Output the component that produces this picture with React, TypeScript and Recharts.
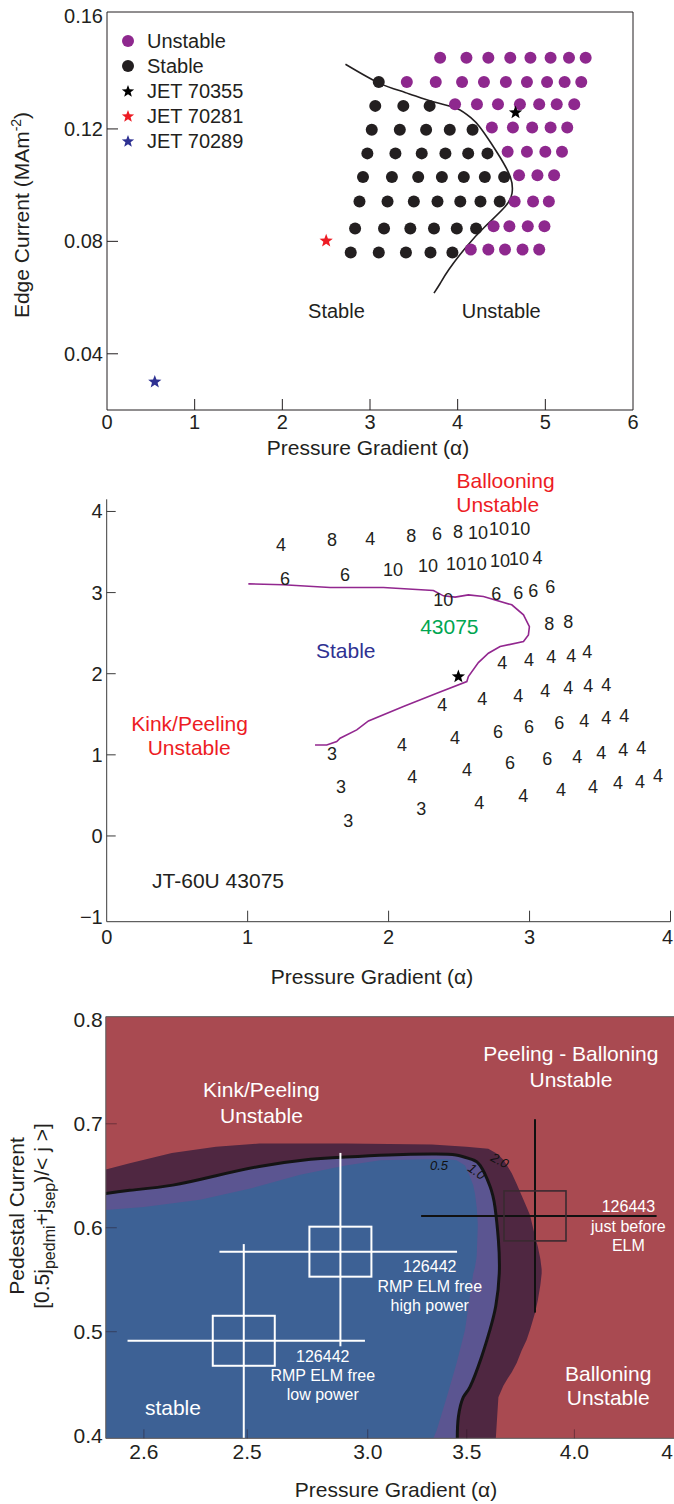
import React from 'react';
import {
  ComposedChart, Scatter, Line, Area, XAxis, YAxis, ReferenceLine, ReferenceDot,
  Legend, ErrorBar, CartesianGrid,
} from 'recharts';

const FONT = '"Liberation Sans", Arial, Helvetica, sans-serif';
const INK = '#231f20';
const PAGE_W = 674;

// ---------- top panel: JET edge stability diagram ----------
const p1XTicks = [0, 1, 2, 3, 4, 5, 6];
const p1YTicks = [0.04, 0.08, 0.12, 0.16];
const p1YLabels = ['0.04', '0.08', '0.12', '0.16'];

const stableRows = [
  { y: 0.076, xs: [2.78, 3.1, 3.41, 3.69, 3.94] },
  { y: 0.0846, xs: [2.83, 3.16, 3.46, 3.73, 3.99, 4.21] },
  { y: 0.0942, xs: [2.88, 3.2, 3.5, 3.77, 4.03, 4.26, 4.48] },
  { y: 0.1029, xs: [2.92, 3.25, 3.55, 3.82, 4.07, 4.31, 4.53] },
  { y: 0.1113, xs: [2.97, 3.29, 3.59, 3.86, 4.12, 4.34] },
  { y: 0.1197, xs: [3.02, 3.34, 3.64, 3.91, 4.17] },
  { y: 0.1282, xs: [3.06, 3.38, 3.68] },
  { y: 0.1367, xs: [3.1] },
];

const unstableRows = [
  { y: 0.1453, xs: [3.8, 4.1, 4.35, 4.6, 4.83, 5.06, 5.27, 5.46] },
  { y: 0.1367, xs: [3.42, 3.75, 4.05, 4.3, 4.55, 4.79, 5.02, 5.22, 5.41] },
  { y: 0.1288, xs: [3.97, 4.22, 4.46, 4.71, 4.93, 5.13, 5.33] },
  { y: 0.1205, xs: [4.39, 4.63, 4.85, 5.06, 5.25] },
  { y: 0.1119, xs: [4.57, 4.79, 5.0, 5.19] },
  { y: 0.1035, xs: [4.7, 4.91, 5.1] },
  { y: 0.0942, xs: [4.65, 4.86, 5.04] },
  { y: 0.0854, xs: [4.41, 4.59, 4.8, 4.99] },
  { y: 0.0771, xs: [4.15, 4.35, 4.54, 4.74, 4.93] },
];

const jet70355 = [{ x: 4.66, y: 0.1258 }];
const jet70281 = [{ x: 2.5, y: 0.0802 }];
const jet70289 = [{ x: 0.545, y: 0.03 }];

const p1Boundary = [
  { x: 2.72, y: 0.143 }, { x: 3.11, y: 0.1362 }, { x: 3.4, y: 0.133 },
  { x: 3.72, y: 0.1297 }, { x: 3.99, y: 0.1273 }, { x: 4.15, y: 0.124 },
  { x: 4.25, y: 0.1208 }, { x: 4.38, y: 0.115 }, { x: 4.48, y: 0.1101 },
  { x: 4.6, y: 0.103 }, { x: 4.62, y: 0.0971 }, { x: 4.54, y: 0.0923 },
  { x: 4.31, y: 0.0852 }, { x: 4.1, y: 0.0781 }, { x: 3.9, y: 0.07 },
  { x: 3.8, y: 0.065 }, { x: 3.73, y: 0.0616 },
];

const p1Legend = [
  { label: 'Unstable', kind: 'dot', color: '#8e288e' },
  { label: 'Stable', kind: 'dot', color: INK },
  { label: 'JET 70355', kind: 'star', color: '#000' },
  { label: 'JET 70281', kind: 'star', color: '#ed1c24' },
  { label: 'JET 70289', kind: 'star', color: '#2e3192' },
];

const p1Notes = [
  { x: 2.617, y: 0.0552, t: 'Stable' },
  { x: 4.497, y: 0.0552, t: 'Unstable' },
];

// ---------- middle panel: JT-60U 43075 ----------
const p2XTicks = [0, 1, 2, 3, 4];
const p2YTicks = [-1, 0, 1, 2, 3, 4];
const p2YLabels = ['\u22121', '0', '1', '2', '3', '4'];

const p2Boundary = [
  { x: 1.005, y: 3.108 }, { x: 1.253, y: 3.096 }, { x: 1.585, y: 3.062 },
  { x: 1.963, y: 3.062 }, { x: 2.318, y: 3.025 }, { x: 2.389, y: 2.96 },
  { x: 2.472, y: 2.944 }, { x: 2.566, y: 2.972 }, { x: 2.673, y: 2.951 },
  { x: 2.874, y: 2.849 }, { x: 2.957, y: 2.726 }, { x: 2.999, y: 2.581 },
  { x: 2.992, y: 2.479 }, { x: 2.957, y: 2.396 }, { x: 2.791, y: 2.335 },
  { x: 2.708, y: 2.253 }, { x: 2.637, y: 2.137 }, { x: 2.566, y: 1.965 },
  { x: 2.555, y: 1.903 }, { x: 2.342, y: 1.76 }, { x: 2.105, y: 1.595 },
  { x: 1.857, y: 1.418 }, { x: 1.774, y: 1.307 }, { x: 1.656, y: 1.205 },
  { x: 1.632, y: 1.163 }, { x: 1.561, y: 1.122 }, { x: 1.478, y: 1.122 },
];

// most unstable toroidal mode number at each scanned equilibrium
const p2Modes = [
  { x: 1.237, y: 3.589, n: '4' }, { x: 1.599, y: 3.651, n: '8' }, { x: 1.869, y: 3.663, n: '4' },
  { x: 2.16, y: 3.7, n: '8' }, { x: 2.344, y: 3.725, n: '6' }, { x: 2.493, y: 3.75, n: '8' },
  { x: 2.635, y: 3.737, n: '10' }, { x: 2.784, y: 3.786, n: '10' }, { x: 2.934, y: 3.786, n: '10' },
  { x: 1.265, y: 3.17, n: '6' }, { x: 1.691, y: 3.219, n: '6' }, { x: 2.032, y: 3.281, n: '10' },
  { x: 2.28, y: 3.33, n: '10' }, { x: 2.479, y: 3.355, n: '10' }, { x: 2.625, y: 3.355, n: '10' },
  { x: 2.791, y: 3.392, n: '10' }, { x: 2.926, y: 3.416, n: '10' }, { x: 3.057, y: 3.429, n: '4' },
  { x: 2.387, y: 2.911, n: '10' }, { x: 2.763, y: 2.985, n: '6' }, { x: 2.919, y: 2.997, n: '6' },
  { x: 3.026, y: 3.022, n: '6' }, { x: 3.147, y: 3.071, n: '6' },
  { x: 3.139, y: 2.615, n: '8' }, { x: 3.274, y: 2.639, n: '8' },
  { x: 2.806, y: 2.134, n: '4' }, { x: 2.997, y: 2.171, n: '4' }, { x: 3.154, y: 2.208, n: '4' },
  { x: 3.296, y: 2.22, n: '4' }, { x: 3.409, y: 2.269, n: '4' },
  { x: 2.38, y: 1.616, n: '4' }, { x: 2.664, y: 1.69, n: '4' }, { x: 2.919, y: 1.727, n: '4' },
  { x: 3.111, y: 1.788, n: '4' }, { x: 3.274, y: 1.825, n: '4' }, { x: 3.416, y: 1.85, n: '4' },
  { x: 3.544, y: 1.862, n: '4' },
  { x: 2.096, y: 1.122, n: '4' }, { x: 2.472, y: 1.209, n: '4' }, { x: 2.777, y: 1.283, n: '6' },
  { x: 2.997, y: 1.344, n: '6' }, { x: 3.21, y: 1.394, n: '6' }, { x: 3.388, y: 1.418, n: '4' },
  { x: 3.544, y: 1.455, n: '4' }, { x: 3.672, y: 1.48, n: '4' },
  { x: 1.599, y: 1.011, n: '3' }, { x: 2.167, y: 0.728, n: '4' }, { x: 2.557, y: 0.814, n: '4' },
  { x: 2.862, y: 0.9, n: '6' }, { x: 3.125, y: 0.95, n: '6' }, { x: 3.338, y: 0.974, n: '4' },
  { x: 3.508, y: 1.024, n: '4' }, { x: 3.664, y: 1.061, n: '4' }, { x: 3.792, y: 1.085, n: '4' },
  { x: 1.663, y: 0.604, n: '3' }, { x: 2.231, y: 0.333, n: '3' }, { x: 2.643, y: 0.407, n: '4' },
  { x: 2.955, y: 0.493, n: '4' }, { x: 3.224, y: 0.567, n: '4' }, { x: 3.451, y: 0.604, n: '4' },
  { x: 3.628, y: 0.654, n: '4' }, { x: 3.784, y: 0.666, n: '4' }, { x: 3.912, y: 0.74, n: '4' },
  { x: 1.713, y: 0.185, n: '3' },
];

const p2Star = [{ x: 2.495, y: 1.965 }];

const p2Notes = [
  { x: 2.83, y: 4.38, t: 'Ballooning', color: '#ed1c24' },
  { x: 2.774, y: 4.08, t: 'Unstable', color: '#ed1c24' },
  { x: 0.588, y: 1.39, t: 'Kink/Peeling', color: '#ed1c24' },
  { x: 0.585, y: 1.094, t: 'Unstable', color: '#ed1c24' },
  { x: 1.696, y: 2.285, t: 'Stable', color: '#2e3192' },
  { x: 2.431, y: 2.581, t: '43075', color: '#00a651' },
  { x: 0.79, y: -0.551, t: 'JT-60U 43075', color: INK },
];

// ---------- bottom panel: DIII-D growth-rate contours ----------
const p3XTicks = [2.0, 2.48, 3.04, 3.5, 4.0, 4.5];
const p3XLabels = ['2.6', '2.5', '3.0', '3.5', '4.0', '4'];
const p3YTicks = [0.4, 0.5, 0.6, 0.7, 0.8];
const p3YLabels = ['0.4', '0.5', '0.6', '0.7', '0.8'];
const B = 0.3975;

// region inside the 2.0 contour
const band20 = [
  { x: 1.823, r: [B, 0.656] }, { x: 1.934, r: [B, 0.662] }, { x: 2.13, r: [B, 0.672] },
  { x: 2.335, r: [B, 0.678] }, { x: 2.536, r: [B, 0.681] }, { x: 2.937, r: [B, 0.681] },
  { x: 3.338, r: [B, 0.68] }, { x: 3.498, r: [B, 0.678] }, { x: 3.6, r: [B, 0.676] },
  { x: 3.635, r: [B, 0.672] }, { x: 3.647, r: [0.437, 0.67] }, { x: 3.67, r: [0.448, 0.6653] },
  { x: 3.69, r: [0.455, 0.659] }, { x: 3.709, r: [0.461, 0.6525] }, { x: 3.732, r: [0.47, 0.642] },
  { x: 3.755, r: [0.482, 0.631] }, { x: 3.778, r: [0.492, 0.62] }, { x: 3.794, r: [0.502, 0.612] },
  { x: 3.817, r: [0.518, 0.592] }, { x: 3.83, r: [0.53, 0.582] }, { x: 3.842, r: [0.545, 0.57] },
  { x: 3.848, r: [0.556, 0.56] },
];

// region inside the 1.0 contour
const band10 = [
  { x: 1.823, r: [B, 0.633] }, { x: 1.934, r: [B, 0.636] }, { x: 2.134, r: [B, 0.641] },
  { x: 2.335, r: [B, 0.65] }, { x: 2.536, r: [B, 0.659] }, { x: 2.736, r: [B, 0.665] },
  { x: 2.937, r: [B, 0.668] }, { x: 3.137, r: [B, 0.67] }, { x: 3.338, r: [B, 0.671] },
  { x: 3.456, r: [B, 0.67] }, { x: 3.461, r: [0.418, 0.67] }, { x: 3.484, r: [0.437, 0.669] },
  { x: 3.515, r: [0.447, 0.667] }, { x: 3.562, r: [0.471, 0.66] }, { x: 3.569, r: [0.476, 0.657] },
  { x: 3.608, r: [0.502, 0.64] }, { x: 3.635, r: [0.525, 0.616] }, { x: 3.647, r: [0.542, 0.588] },
  { x: 3.651, r: [0.556, 0.57] }, { x: 3.653, r: [0.563, 0.563] },
];

// stable region, inside the 0.5 contour
const band05 = [
  { x: 1.823, r: [B, 0.617] }, { x: 2.0, r: [B, 0.62] }, { x: 2.261, r: [B, 0.627] },
  { x: 2.5, r: [B, 0.638] }, { x: 2.726, r: [B, 0.651] }, { x: 2.937, r: [B, 0.66] },
  { x: 3.098, r: [B, 0.665] }, { x: 3.3, r: [B, 0.666] }, { x: 3.345, r: [B, 0.666] },
  { x: 3.36, r: [0.405, 0.666] }, { x: 3.407, r: [0.437, 0.666] }, { x: 3.453, r: [0.47, 0.665] },
  { x: 3.492, r: [0.502, 0.66] }, { x: 3.515, r: [0.535, 0.649] }, { x: 3.53, r: [0.556, 0.641] },
  { x: 3.538, r: [0.562, 0.633] }, { x: 3.546, r: [0.572, 0.62] }, { x: 3.551, r: [0.6, 0.604] },
];

const contour10 = [
  { x: 1.823, y: 0.633 }, { x: 1.934, y: 0.636 }, { x: 2.134, y: 0.641 }, { x: 2.335, y: 0.65 },
  { x: 2.536, y: 0.659 }, { x: 2.736, y: 0.665 }, { x: 2.937, y: 0.668 }, { x: 3.137, y: 0.67 },
  { x: 3.338, y: 0.671 }, { x: 3.45, y: 0.67 }, { x: 3.52, y: 0.666 }, { x: 3.562, y: 0.66 },
  { x: 3.608, y: 0.64 }, { x: 3.631, y: 0.62 }, { x: 3.647, y: 0.588 }, { x: 3.651, y: 0.556 },
  { x: 3.635, y: 0.525 }, { x: 3.608, y: 0.502 }, { x: 3.569, y: 0.476 }, { x: 3.515, y: 0.447 },
  { x: 3.484, y: 0.437 }, { x: 3.461, y: 0.418 }, { x: 3.456, y: 0.3975 },
];

const rmpShots = [
  { x: 2.464, y: 0.4913, ex: [0.54, 0.563], ey: [0.0938, 0.093] },
  { x: 2.913, y: 0.577, ex: [0.562, 0.542], ey: [0.091, 0.095] },
];
const elmShot = [{ x: 3.817, y: 0.6114, ex: [0.529, 0.565], ey: [0.093, 0.093] }];

const p3Notes = [
  { x: 2.546, y: 0.7326, t: 'Kink/Peeling', s: 21 },
  { x: 2.546, y: 0.7076, t: 'Unstable', s: 21 },
  { x: 3.984, y: 0.7673, t: 'Peeling - Balloning', s: 21 },
  { x: 3.984, y: 0.7423, t: 'Unstable', s: 21 },
  { x: 4.157, y: 0.46, t: 'Balloning', s: 21 },
  { x: 4.157, y: 0.4369, t: 'Unstable', s: 21 },
  { x: 2.135, y: 0.4272, t: 'stable', s: 21 },
  { x: 2.831, y: 0.4766, t: '126442', s: 16 },
  { x: 2.831, y: 0.4583, t: 'RMP ELM free', s: 16 },
  { x: 2.831, y: 0.44, t: 'low power', s: 16 },
  { x: 3.328, y: 0.5626, t: '126442', s: 16 },
  { x: 3.328, y: 0.544, t: 'RMP ELM free', s: 16 },
  { x: 3.328, y: 0.5257, t: 'high power', s: 16 },
  { x: 4.251, y: 0.6203, t: '126443', s: 16 },
  { x: 4.251, y: 0.6017, t: 'just before', s: 16 },
  { x: 4.251, y: 0.5834, t: 'ELM', s: 16 },
];

const contourLabels = [
  { x: 3.371, y: 0.6604, t: '0.5', rot: 0 },
  { x: 3.546, y: 0.6542, t: '1.0', rot: 35 },
  { x: 3.654, y: 0.6647, t: '2.0', rot: 28 },
];

// ---------- helpers ----------
const near = (a: number, b: number) => Math.abs(a - b) < 1e-9;
const flatRows = (rows: { y: number; xs: number[] }[]) =>
  rows.flatMap((r) => r.xs.map((x) => ({ x, y: r.y })));

function starPath(cx: number, cy: number, R: number) {
  const pts: string[] = [];
  for (let i = 0; i < 10; i++) {
    const r = i % 2 === 0 ? R : R * 0.42;
    const a = -Math.PI / 2 + (i * Math.PI) / 5;
    pts.push(`${(cx + r * Math.cos(a)).toFixed(2)},${(cy + r * Math.sin(a)).toFixed(2)}`);
  }
  return `M${pts.join('L')}Z`;
}

type TickCfg = {
  side: 'bottom' | 'left';
  values: number[];
  labels: string[];
  marks: number[];
  len: number;
  gap: number;
  tickColor: string;
  size: number;
  textColor: string;
};

function AxisTick({ x, y, payload, cfg }: any) {
  const c: TickCfg = cfg;
  const i = c.values.findIndex((v) => near(v, payload.value));
  const label = i >= 0 ? c.labels[i] : String(payload.value);
  const mark = c.marks.some((m) => near(m, payload.value));
  if (c.side === 'bottom') {
    // labels at the page's right edge are pulled in so they stay readable
    const atEdge = x + label.length * c.size * 0.28 > PAGE_W - 1;
    return (
      <g>
        {mark && <line x1={x} y1={y} x2={x} y2={y - c.len} stroke={c.tickColor} />}
        <text
          x={atEdge ? PAGE_W - 1 : x}
          y={y + c.gap}
          textAnchor={atEdge ? 'end' : 'middle'}
          fontSize={c.size}
          fontFamily={FONT}
          fill={c.textColor}
        >
          {label}
        </text>
      </g>
    );
  }
  return (
    <g>
      {mark && <line x1={x} y1={y} x2={x + c.len} y2={y} stroke={c.tickColor} />}
      <text x={x - c.gap} y={y} dy="0.35em" textAnchor="end" fontSize={c.size} fontFamily={FONT} fill={c.textColor}>
        {label}
      </text>
    </g>
  );
}

const textShape = (t: string, color: string, size: number, rot = 0, italic = false) => (p: any) => (
  <text
    x={p.cx}
    y={p.cy}
    dy="0.35em"
    textAnchor="middle"
    fill={color}
    fontSize={size}
    fontFamily={FONT}
    fontStyle={italic ? 'italic' : 'normal'}
    transform={rot ? `rotate(${rot} ${p.cx} ${p.cy})` : undefined}
  >
    {t}
  </text>
);

const dotShape = (color: string) => (p: any) => <circle cx={p.cx} cy={p.cy} r={6} fill={color} />;
const starShape = (color: string, R: number) => (p: any) => <path d={starPath(p.cx, p.cy, R)} fill={color} />;

// ---------- panels ----------
function JetPanel() {
  const xCfg: TickCfg = {
    side: 'bottom', values: p1XTicks, labels: p1XTicks.map(String), marks: [1, 2, 3, 4, 5],
    len: 11, gap: 19, tickColor: INK, size: 20, textColor: INK,
  };
  const yCfg: TickCfg = {
    side: 'left', values: p1YTicks, labels: p1YLabels, marks: [0.04, 0.08, 0.12],
    len: 11, gap: 4, tickColor: INK, size: 20, textColor: INK,
  };

  const legend = () => (
    <div style={{ fontFamily: FONT, fontSize: 20, color: INK, lineHeight: '20px' }}>
      {p1Legend.map((it) => (
        <div key={it.label} style={{ display: 'flex', alignItems: 'center', height: 25.2 }}>
          <svg width={24} height={20} style={{ display: 'block' }}>
            {it.kind === 'dot' ? (
              <circle cx={12} cy={10} r={6} fill={it.color} />
            ) : (
              <path d={starPath(12, 10.5, 6.5)} fill={it.color} />
            )}
          </svg>
          <span style={{ marginLeft: 7 }}>{it.label}</span>
        </div>
      ))}
    </div>
  );

  return (
    <ComposedChart width={674} height={470} margin={{ top: 12, right: 41, bottom: 15, left: 0 }}>
      <XAxis
        type="number" dataKey="x" domain={[0, 6]} ticks={p1XTicks} interval={0} allowDataOverflow
        tickSize={0} tickMargin={0} height={45} tickLine={false} axisLine={{ stroke: INK }}
        tick={(p: any) => <AxisTick {...p} cfg={xCfg} />}
        label={{
          content: () => (
            <text x={368} y={455} textAnchor="middle" fontSize={21} fontFamily={FONT} fill={INK}>
              Pressure Gradient (α)
            </text>
          ),
        }}
      />
      <YAxis
        type="number" dataKey="y" domain={[0.02, 0.1616]} ticks={p1YTicks} interval={0} allowDataOverflow
        tickSize={0} tickMargin={0} width={107} tickLine={false} axisLine={{ stroke: INK }}
        tick={(p: any) => <AxisTick {...p} cfg={yCfg} />}
        label={{
          content: () => (
            <text x={22} y={222} transform="rotate(-90 22 215)" textAnchor="middle" fontSize={21} fontFamily={FONT} fill={INK}>
              Edge Current (MAm<tspan dy={-8} fontSize={14}>-2</tspan>
              <tspan dy={8}>)</tspan>
            </text>
          ),
        }}
      />
      <ReferenceLine y={0.1616} stroke={INK} ifOverflow="visible" />
      <ReferenceLine x={6} stroke={INK} ifOverflow="visible" />
      <Line data={p1Boundary} dataKey="y" type="natural" stroke={INK} strokeWidth={1.6} dot={false} isAnimationActive={false} />
      <Scatter data={flatRows(stableRows)} shape={dotShape(INK)} isAnimationActive={false} />
      <Scatter data={flatRows(unstableRows)} shape={dotShape('#8e288e')} isAnimationActive={false} />
      <Scatter data={jet70355} shape={starShape('#000', 7)} isAnimationActive={false} />
      <Scatter data={jet70281} shape={starShape('#ed1c24', 7)} isAnimationActive={false} />
      <Scatter data={jet70289} shape={starShape('#2e3192', 7)} isAnimationActive={false} />
      {p1Notes.map((n) => (
        <ReferenceDot key={n.t} x={n.x} y={n.y} ifOverflow="visible" shape={textShape(n.t, INK, 20)} />
      ))}
      <Legend
        layout="horizontal" align="center" verticalAlign="middle"
        wrapperStyle={{ left: 116, top: 28, width: 170, height: 130 }}
        content={legend}
      />
    </ComposedChart>
  );
}

function Jt60Panel() {
  const AX = '#3a3a3a';
  const xCfg: TickCfg = {
    side: 'bottom', values: p2XTicks, labels: p2XTicks.map(String), marks: [1, 2, 3, 4],
    len: 11, gap: 22, tickColor: AX, size: 20, textColor: INK,
  };
  const yCfg: TickCfg = {
    side: 'left', values: p2YTicks, labels: p2YLabels, marks: [0, 1, 2, 3, 4],
    len: 9, gap: 4, tickColor: AX, size: 20, textColor: INK,
  };
  return (
    <ComposedChart width={674} height={530} margin={{ top: 29.3, right: 3.5, bottom: 16, left: 0 }}>
      <XAxis
        type="number" dataKey="x" domain={[0, 4]} ticks={p2XTicks} interval={0} allowDataOverflow
        tickSize={0} tickMargin={0} height={62.3} tickLine={false} axisLine={{ stroke: AX }}
        tick={(p: any) => <AxisTick {...p} cfg={xCfg} />}
        label={{
          content: () => (
            <text x={372} y={514} textAnchor="middle" fontSize={21} fontFamily={FONT} fill={INK}>
              Pressure Gradient (α)
            </text>
          ),
        }}
      />
      <YAxis
        type="number" dataKey="y" domain={[-1.057, 4.15]} ticks={p2YTicks} interval={0} allowDataOverflow
        tickSize={0} tickMargin={0} width={106.7} tickLine={false} axisLine={{ stroke: AX }}
        tick={(p: any) => <AxisTick {...p} cfg={yCfg} />}
      />
      <Line data={p2Boundary} dataKey="y" type="linear" stroke="#92278f" strokeWidth={1.6} dot={false} isAnimationActive={false} />
      <Scatter
        data={p2Modes}
        shape={(p: any) => textShape(p.payload.n, INK, 18)(p)}
        isAnimationActive={false}
      />
      <Scatter data={p2Star} shape={starShape('#000', 7)} isAnimationActive={false} />
      {p2Notes.map((n) => (
        <ReferenceDot key={n.t + n.y} x={n.x} y={n.y} ifOverflow="visible" shape={textShape(n.t, n.color, 21)} />
      ))}
    </ComposedChart>
  );
}

function DiiidPanel() {
  const AX = '#5a5a5a';
  const xCfg: TickCfg = {
    side: 'bottom', values: p3XTicks, labels: p3XLabels, marks: p3XTicks,
    len: 9, gap: 21, tickColor: 'rgba(40,20,30,0.45)', size: 21, textColor: INK,
  };
  const yCfg: TickCfg = {
    side: 'left', values: p3YTicks, labels: p3YLabels, marks: [0.5, 0.6, 0.7],
    len: 11, gap: 3, tickColor: 'rgba(40,20,30,0.45)', size: 21, textColor: INK,
  };
  return (
    <ComposedChart width={690} height={504} margin={{ top: 16.7, right: 8, bottom: 7, left: 0 }}>
      <CartesianGrid horizontal={false} vertical={false} fill="#a94a51" fillOpacity={1} />
      <XAxis
        type="number" dataKey="x" domain={[1.823, 4.5]} ticks={p3XTicks} interval={0} allowDataOverflow
        tickSize={0} tickMargin={0} height={58.7} tickLine={false} axisLine={{ stroke: AX }}
        tick={(p: any) => <AxisTick {...p} cfg={xCfg} />}
        label={{
          content: () => (
            <text x={396} y={497} textAnchor="middle" fontSize={21} fontFamily={FONT} fill={INK}>
              Pressure Gradient (α)
            </text>
          ),
        }}
      />
      <YAxis
        type="number" dataKey="y" domain={[B, 0.803]} ticks={p3YTicks} interval={0} allowDataOverflow
        tickSize={0} tickMargin={0} width={105.8} tickLine={false} axisLine={{ stroke: AX }}
        tick={(p: any) => <AxisTick {...p} cfg={yCfg} />}
        label={{
          content: () => (
            <g fontFamily={FONT} fill={INK}>
              <text x={17} y={223} transform="rotate(-90 17 216)" textAnchor="middle" fontSize={21}>
                Pedestal Current
              </text>
              <text x={42} y={223} transform="rotate(-90 42 216)" textAnchor="middle" fontSize={21}>
                [0.5j<tspan dy={6} fontSize={16}>pedmi</tspan>
                <tspan dy={-6}>+j</tspan>
                <tspan dy={6} fontSize={16}>sep</tspan>
                <tspan dy={-6}>)/&lt; j &gt;]</tspan>
              </text>
            </g>
          ),
        }}
      />
      <ReferenceLine y={0.803} stroke={AX} ifOverflow="visible" />
      <Area data={band20} dataKey="r" type="linear" stroke="none" fill="#4f2741" fillOpacity={1} isAnimationActive={false} />
      <Area data={band10} dataKey="r" type="linear" stroke="none" fill="#5b5591" fillOpacity={1} isAnimationActive={false} />
      <Area data={band05} dataKey="r" type="linear" stroke="none" fill="#3d6195" fillOpacity={1} isAnimationActive={false} />
      <Line data={contour10} dataKey="y" type="natural" stroke="#141414" strokeWidth={3} dot={false} isAnimationActive={false} />
      <Scatter
        data={rmpShots}
        shape={(p: any) => <rect x={p.cx - 31} y={p.cy - 25} width={62} height={50} fill="none" stroke="#fff" strokeWidth={2} />}
        isAnimationActive={false}
      >
        <ErrorBar dataKey="ex" direction="x" width={0} stroke="#fff" strokeWidth={2} />
        <ErrorBar dataKey="ey" direction="y" width={0} stroke="#fff" strokeWidth={2} />
      </Scatter>
      <Scatter
        data={elmShot}
        shape={(p: any) => <rect x={p.cx - 31} y={p.cy - 25} width={62} height={50} fill="none" stroke="#3a2a30" strokeWidth={1.6} />}
        isAnimationActive={false}
      >
        <ErrorBar dataKey="ex" direction="x" width={0} stroke="#111" strokeWidth={2} />
        <ErrorBar dataKey="ey" direction="y" width={0} stroke="#111" strokeWidth={2} />
      </Scatter>
      {contourLabels.map((c) => (
        <ReferenceDot key={c.t} x={c.x} y={c.y} ifOverflow="visible" shape={textShape(c.t, '#111', 13, c.rot, true)} />
      ))}
      {p3Notes.map((n) => (
        <ReferenceDot key={n.t + n.y} x={n.x} y={n.y} ifOverflow="visible" shape={textShape(n.t, '#fff', n.s)} />
      ))}
    </ComposedChart>
  );
}

export default function App() {
  return (
    <div
      style={{
        position: 'absolute', left: 0, top: 0, width: 674, height: 1504,
        overflow: 'hidden', background: '#fff', fontFamily: FONT,
      }}
    >
      <div style={{ position: 'absolute', left: 0, top: 0 }}>
        <JetPanel />
      </div>
      <div style={{ position: 'absolute', left: 0, top: 470 }}>
        <Jt60Panel />
      </div>
      <div style={{ position: 'absolute', left: 0, top: 1000 }}>
        <DiiidPanel />
      </div>
    </div>
  );
}
